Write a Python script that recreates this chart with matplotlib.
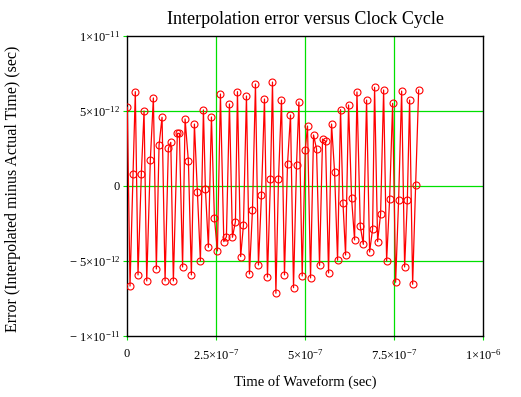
import numpy as np
import matplotlib
matplotlib.use("Agg")
import matplotlib.pyplot as plt
from matplotlib.ticker import FixedLocator, FixedFormatter

plt.rcParams["font.family"] = ["Liberation Serif", "DejaVu Serif"]
plt.rcParams["mathtext.fontset"] = "custom"
plt.rcParams["mathtext.rm"] = "Liberation Serif"
plt.rcParams["mathtext.it"] = "Liberation Serif:italic"

# time of each sample (ns) and interpolation error (ps)
time_ns = [0.8, 8.4, 16.9, 23.3, 30.9, 40.2, 47.8, 55.4, 65.5, 74.0,
           82.4, 90.0, 98.4, 106.9, 116.1, 122.9, 130.2, 141.4, 147.1, 156.1,
           163.1, 172.4, 180.8, 189.3, 197.7, 206.1, 214.6, 220.2, 228.6, 237.1,
           245.5, 253.9, 262.4, 271.9, 279.2, 287.7, 296.1, 304.5, 310.2, 319.2,
           327.0, 335.5, 343.9, 352.4, 360.8, 369.2, 377.7, 386.1, 394.5, 403.0,
           408.6, 418.2, 425.5, 433.9, 442.3, 450.8, 459.2, 467.7, 476.1, 482.8,
           492.1, 500.6, 507.0, 515.5, 523.9, 532.3, 540.8, 549.2, 557.6, 566.1,
           574.5, 583.0, 591.4, 599.8, 606.6, 613.9, 622.3, 630.8, 639.2, 645.9,
           655.2, 663.7, 672.9, 681.4, 689.8, 695.4, 703.9, 712.3, 720.8, 729.2,
           737.6, 746.1, 754.5, 762.9, 771.4, 779.8, 787.4, 793.8, 802.3, 810.7,
           819.2]
error_ps = [5.25, -6.67, 0.80, 6.29, -5.93, 0.78, 5.00, -6.33, 1.73, 5.87,
            -5.53, 2.73, 4.58, -6.33, 2.51, 2.91, -6.33, 3.51, 3.51, -5.40,
            4.47, 1.65, -5.93, 4.13, -0.42, -5.00, 5.07, -0.22, -4.09, 4.60,
            -2.15, -4.33, 6.13, -3.71, -3.38, 5.47, -3.42, -2.38, 6.29, -4.71,
            -2.62, 6.00, -5.87, -1.60, 6.80, -5.27, -0.60, 5.80, -6.07, 0.45,
            6.93, -7.15, 0.45, 5.73, -5.93, 1.45, 4.73, -6.78, 1.40, 5.60,
            -6.00, 2.40, 4.00, -6.13, 3.40, 2.47, -5.29, 3.13, 2.98, -5.80,
            4.13, 0.95, -4.95, 5.09, -1.13, -4.60, 5.40, -0.82, -3.60, 6.27,
            -2.67, -3.89, 5.73, -4.40, -2.87, 6.58, -3.71, -1.87, 6.40, -5.00,
            -0.89, 5.51, -6.42, -0.93, 6.33, -5.40, -0.93, 5.73, -6.55, 0.07,
            6.40]

x_ticks = [0, 2.5e-7, 5e-7, 7.5e-7, 1e-6]
x_labels = ["0", r"2.5×10$^{-7}$", r"5×10$^{-7}$", r"7.5×10$^{-7}$", r"1×10$^{-6}$"]
y_ticks = [-1e-11, -5e-12, 0, 5e-12, 1e-11]
y_labels = [r"$-$ 1×10$^{-11}$", r"$-$ 5×10$^{-12}$", "0", r"5×10$^{-12}$", r"1×10$^{-11}$"]

t = np.array(time_ns) * 1e-9
err = np.array(error_ps) * 1e-12

fig = plt.figure(figsize=(5.21, 3.97), dpi=100)
ax = fig.add_axes([0.2438, 0.1537, 0.6833, 0.7556])

green = "#00e000"
for xv in x_ticks[1:-1]:
    ax.axvline(xv, color=green, lw=0.9, zorder=1)
for yv in y_ticks[1:-1]:
    ax.axhline(yv, color=green, lw=0.9, zorder=1)

ax.plot(t, err, color="red", lw=0.9, marker="o", markersize=5,
        markerfacecolor="none", markeredgecolor="red", markeredgewidth=0.8, zorder=3)

ax.set_xlim(0, 1e-6)
ax.set_ylim(-1e-11, 1e-11)
ax.xaxis.set_major_locator(FixedLocator(x_ticks))
ax.xaxis.set_major_formatter(FixedFormatter(x_labels))
ax.yaxis.set_major_locator(FixedLocator(y_ticks))
ax.yaxis.set_major_formatter(FixedFormatter(y_labels))
ax.tick_params(axis="both", length=3, color=green, labelsize=9)
ax.tick_params(axis="x", pad=6)
ax.tick_params(axis="y", pad=2)
for s in ax.spines.values():
    s.set_linewidth(1.0)

ax.set_title("Interpolation error versus Clock Cycle", fontsize=13, pad=9)
ax.set_xlabel("Time of Waveform (sec)", fontsize=10.5)
ax.set_ylabel("Error (Interpolated minus Actual Time) (sec)", fontsize=11.5)
ax.xaxis.set_label_coords(0.5, -0.13)
ax.yaxis.set_label_coords(-0.298, 0.49)

fig.savefig("out.png", dpi=100)
